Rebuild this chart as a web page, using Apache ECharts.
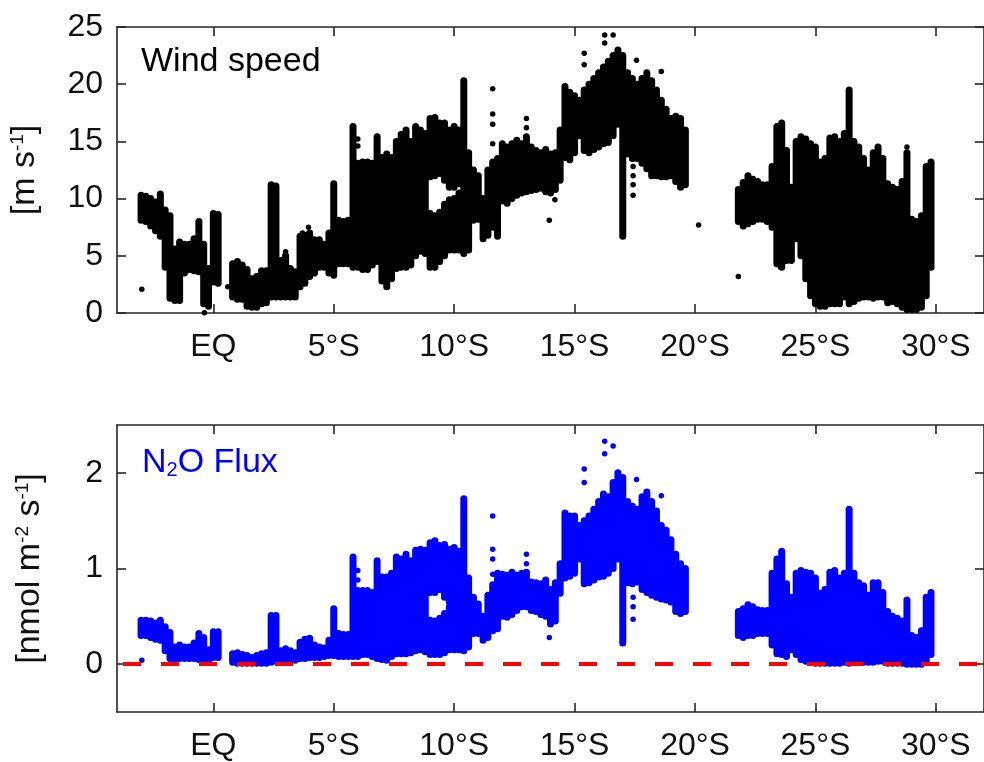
<!DOCTYPE html>
<html>
<head>
<meta charset="utf-8">
<script src="https://cdn.jsdelivr.net/npm/echarts@6/dist/echarts.min.js"></script>
<style>
html,body{margin:0;padding:0;background:#fff;}
#chart{width:984px;height:762px;}
</style>
</head>
<body>
<div id="chart"></div>
<script>
// ---- tick labels ----
const xTickVals = [0, 5, 10, 15, 20, 25, 30];
const xTickLabels = ['EQ', '5°S', '10°S', '15°S', '20°S', '25°S', '30°S'];
const windTicks = [0, 5, 10, 15, 20, 25];
const fluxTicks = [0, 1, 2];

// ---- wind speed: vertical spread of the point cloud [lat, low, high] (m s-1) ----
const windCols = [
 [-3.0,8.1,10.3],[-2.8,8.0,10.2],[-2.6,7.6,10.0],[-2.4,7.2,9.7],[-2.2,6.7,10.4],
 [-2.0,4.0,9.0],[-1.8,1.3,8.5],[-1.6,1.1,5.6],[-1.4,1.1,6.2],[-1.2,3.5,6.0],
 [-1.0,3.8,6.0],[-0.8,3.7,6.5],[-0.6,3.6,8.0],[-0.4,0.8,6.0],[-0.2,0.6,3.9],
 [0.0,2.7,8.7],[0.2,2.6,8.6],[0.8,1.4,4.3],[1.0,1.2,4.5],[1.2,1.2,4.2],
 [1.4,0.6,3.8],[1.6,0.5,3.0],[1.8,0.5,3.2],[2.0,0.8,3.7],[2.2,0.9,3.7],
 [2.4,1.4,11.2],[2.6,1.4,11.1],[2.8,1.4,4.6],[3.0,1.4,5.0],[3.2,1.4,3.9],
 [3.4,1.4,3.6],[3.6,2.3,6.7],[3.8,2.6,6.8],[4.0,3.2,7.0],[4.2,3.5,6.4],
 [4.4,4.0,6.4],[4.6,4.0,6.0],[4.8,3.5,7.0],[5.0,3.3,11.3],[5.2,4.3,8.1],
 [5.4,4.3,8.0],[5.6,4.3,8.1],[5.8,4.0,16.3],[6.0,4.0,13.1],[6.2,3.8,13.2],
 [6.4,3.8,13.2],[6.6,4.2,13.1],[6.8,4.5,15.4],[7.0,2.8,13.6],[7.2,2.3,13.9],
 [7.4,3.0,13.6],[7.6,3.9,15.0],[7.8,4.0,15.6],[8.0,4.0,16.0],[8.2,4.2,15.0],
 [8.4,5.0,16.3],[8.6,5.4,16.0],[8.8,5.2,15.7],
 [9.0,4.0,8.7],[9.0,11.9,17.0],[9.2,4.0,8.5],[9.2,12.0,17.1],[9.4,4.5,8.8],[9.4,12.2,16.6],
 [9.6,5.0,9.5],[9.6,11.6,16.6],[9.8,5.5,9.9],[9.8,11.0,16.0],[10.0,5.5,10.0],[10.0,11.0,16.3],
 [10.2,5.5,10.5],[10.2,11.3,16.0],
 [10.4,5.2,20.3],[10.6,5.5,14.0],[10.8,8.1,12.5],[11.0,8.2,12.0],[11.2,6.5,10.0],
 [11.4,6.8,12.5],[11.6,7.5,13.2],[11.8,6.7,13.5],[12.0,9.8,14.8],[12.2,9.6,14.5],
 [12.4,10.0,14.8],[12.6,10.3,15.1],[12.8,10.5,14.8],[13.0,10.6,15.4],[13.2,10.7,14.5],
 [13.4,10.8,14.2],[13.6,10.9,14.0],[13.8,10.6,14.3],[14.0,10.5,13.9],[14.2,10.8,14.0],
 [14.4,11.6,16.0],[14.6,13.6,19.8],[14.8,13.4,19.3],[15.0,14.0,19.0],[15.2,15.5,18.6],
 [15.4,14.2,19.5],[15.6,14.0,20.0],[15.8,14.3,20.5],[16.0,14.5,21.0],[16.2,14.8,21.5],
 [16.4,14.9,22.0],[16.6,15.5,22.5],[16.8,16.5,23.0],[17.0,6.7,22.5],[17.2,13.9,21.0],
 [17.4,13.5,20.5],[17.6,13.5,20.0],[17.8,13.1,20.5],[18.0,12.6,21.0],[18.2,12.0,20.3],
 [18.4,12.0,19.5],[18.6,11.9,18.6],[18.8,11.9,17.8],[19.0,12.0,17.0],[19.2,11.5,17.2],
 [19.4,11.0,17.0],[19.6,11.2,16.0],
 [21.8,8.0,10.8],[22.0,7.6,11.4],[22.2,7.8,12.0],[22.4,8.0,11.7],[22.6,8.2,11.5],
 [22.8,8.2,11.2],[23.0,8.0,11.2],[23.2,7.5,12.8],[23.4,4.3,16.3],[23.6,4.0,16.6],
 [23.8,4.6,14.2],[24.0,4.6,11.0],[24.2,6.5,15.0],[24.4,5.0,15.4],[24.6,3.0,15.2],
 [24.8,1.5,14.8],[25.0,0.8,14.5],[25.2,0.6,13.2],[25.4,0.6,13.5],[25.6,0.8,15.3],
 [25.8,0.8,15.4],[26.0,0.8,15.0],[26.2,1.4,15.7],[26.4,0.8,19.5],[26.6,1.0,15.0],
 [26.8,1.3,14.5],[27.0,1.4,13.5],[27.2,1.4,12.5],[27.4,1.3,14.0],[27.6,1.4,14.5],
 [27.8,1.4,13.5],[28.0,0.9,11.3],[28.2,1.0,11.0],[28.4,0.8,10.8],[28.6,0.5,11.5],
 [28.8,0.3,14.0],[29.0,0.3,8.2],[29.2,0.3,8.0],[29.4,0.5,8.5],[29.6,1.5,12.8],
 [29.8,4.0,13.2]
];
// isolated wind speed points [lat, value]
const windDots = [
 [-2.97,2.07],[-0.37,0.03],[0.6,2.3],[3.0,5.35],[3.7,7.0],[3.95,7.5],[4.55,5.2],
 [6.0,15.2],[6.0,14.6],[11.6,19.6],[11.6,17.4],[11.6,16.5],[11.6,14.8],[13.0,17.0],[13.0,16.2],
 [13.95,8.1],[14.18,9.9],[15.4,22.7],[15.4,21.7],[16.25,24.3],[16.25,23.6],[16.6,24.3],
 [17.43,12.8],[17.43,12.0],[17.43,11.2],[17.43,10.3],[17.57,22.1],[18.6,21.1],
 [20.15,7.7],[21.8,3.2],[23.55,4.0],[28.8,14.5]
];

// ---- N2O flux: vertical spread of the point cloud [lat, low, high] (nmol m-2 s-1) ----
const fluxCols = [
 [-3.0,0.30,0.46],[-2.8,0.30,0.46],[-2.6,0.28,0.45],[-2.4,0.26,0.43],[-2.2,0.25,0.46],
 [-2.0,0.14,0.39],[-1.8,0.06,0.33],[-1.6,0.05,0.18],[-1.4,0.06,0.20],[-1.2,0.06,0.18],
 [-1.0,0.06,0.18],[-0.8,0.06,0.22],[-0.6,0.05,0.32],[-0.4,0.03,0.28],[-0.2,0.03,0.15],
 [0.0,0.07,0.34],[0.2,0.07,0.34],[0.8,0.02,0.11],[1.0,0.01,0.12],[1.2,0.01,0.10],
 [1.4,0.01,0.09],[1.6,0.01,0.07],[1.8,0.01,0.09],[2.0,0.01,0.11],[2.2,0.01,0.12],
 [2.4,0.02,0.51],[2.6,0.03,0.51],[2.8,0.03,0.14],[3.0,0.03,0.16],[3.2,0.04,0.14],
 [3.4,0.04,0.12],[3.6,0.06,0.23],[3.8,0.06,0.26],[4.0,0.07,0.27],[4.2,0.07,0.20],
 [4.4,0.07,0.18],[4.6,0.08,0.17],[4.8,0.09,0.25],[5.0,0.09,0.58],[5.2,0.08,0.32],
 [5.4,0.08,0.31],[5.6,0.08,0.31],[5.8,0.08,1.12],[6.0,0.08,0.77],[6.2,0.10,0.77],
 [6.4,0.10,0.77],[6.6,0.08,0.75],[6.8,0.06,1.08],[7.0,0.05,0.91],[7.2,0.04,0.91],
 [7.4,0.08,0.95],[7.6,0.11,1.12],[7.8,0.11,1.10],[8.0,0.11,1.15],[8.2,0.12,1.08],
 [8.4,0.14,1.19],[8.6,0.15,1.20],[8.8,0.13,1.19],
 [9.0,0.10,0.46],[9.0,0.75,1.27],[9.2,0.10,0.45],[9.2,0.75,1.29],[9.4,0.10,0.48],[9.4,0.78,1.24],
 [9.6,0.12,0.53],[9.6,0.70,1.25],[9.8,0.15,0.60],[9.8,0.65,1.20],[10.0,0.15,0.60],[10.0,0.65,1.22],
 [10.2,0.15,0.62],[10.2,0.68,1.18],
 [10.4,0.14,1.73],[10.6,0.18,0.90],[10.8,0.32,0.70],[11.0,0.32,0.63],[11.2,0.25,0.50],
 [11.4,0.28,0.72],[11.6,0.35,0.83],[11.8,0.37,0.95],[12.0,0.50,0.94],[12.2,0.49,0.93],
 [12.4,0.52,0.96],[12.6,0.56,0.93],[12.8,0.60,0.95],[13.0,0.60,0.96],[13.2,0.56,0.86],
 [13.4,0.55,0.85],[13.6,0.52,0.84],[13.8,0.50,0.88],[14.0,0.42,0.78],[14.2,0.45,0.85],
 [14.4,0.74,1.05],[14.6,0.90,1.58],[14.8,0.92,1.55],[15.0,0.95,1.55],[15.2,1.10,1.45],
 [15.4,0.84,1.50],[15.6,0.85,1.55],[15.8,0.88,1.62],[16.0,0.91,1.70],[16.2,0.92,1.78],
 [16.4,0.95,1.75],[16.6,1.00,1.90],[16.8,1.10,2.00],[17.0,0.22,1.95],[17.2,0.85,1.70],
 [17.4,0.84,1.65],[17.6,0.86,1.62],[17.8,0.78,1.75],[18.0,0.75,1.80],[18.2,0.72,1.70],
 [18.4,0.70,1.60],[18.6,0.68,1.45],[18.8,0.67,1.40],[19.0,0.65,1.30],[19.2,0.55,1.15],
 [19.4,0.53,1.05],[19.6,0.55,1.00],
 [21.8,0.30,0.55],[22.0,0.28,0.58],[22.2,0.30,0.62],[22.4,0.30,0.60],[22.6,0.32,0.57],
 [22.8,0.32,0.56],[23.0,0.32,0.56],[23.2,0.20,0.95],[23.4,0.11,1.10],[23.6,0.10,1.18],
 [23.8,0.08,0.84],[24.0,0.15,0.70],[24.2,0.10,0.95],[24.4,0.05,0.98],[24.6,0.03,0.96],
 [24.8,0.02,0.95],[25.0,0.01,0.90],[25.2,0.01,0.74],[25.4,0.01,0.78],[25.6,0.01,0.96],
 [25.8,0.01,0.98],[26.0,0.01,0.90],[26.2,0.02,0.95],[26.4,0.01,1.62],[26.6,0.02,0.95],
 [26.8,0.02,0.85],[27.0,0.02,0.82],[27.2,0.02,0.72],[27.4,0.02,0.85],[27.6,0.03,0.85],
 [27.8,0.03,0.75],[28.0,0.01,0.55],[28.2,0.01,0.50],[28.4,0.01,0.48],[28.6,0.01,0.45],
 [28.8,0.00,0.67],[29.0,0.00,0.30],[29.2,0.00,0.28],[29.4,0.00,0.35],[29.6,0.02,0.70],
 [29.8,0.10,0.75]
];
// isolated flux points [lat, value]
const fluxDots = [
 [-2.97,0.04],[6.0,0.98],[6.0,0.88],[11.6,1.55],[11.6,1.20],[11.6,1.10],[11.6,0.94],
 [13.0,1.15],[13.0,1.05],[13.95,0.28],[15.4,2.04],[15.4,1.90],[16.25,2.33],[16.25,2.20],
 [16.6,2.28],[17.43,0.70],[17.43,0.60],[17.43,0.47],[17.57,1.93],[18.6,1.76]
];

const FONT = 'Liberation Sans, Arial, Helvetica, sans-serif';
const AX = '#262626';
const FS = 32;      // tick labels
const NFS = 34;     // axis names and panel labels

function colRenderer(color) {
  return function (params, api) {
    const x = api.value(0), lo = api.value(1), hi = api.value(2);
    const p1 = api.coord([x, lo]);
    const p2 = api.coord([x, hi]);
    return {
      type: 'line',
      shape: { x1: p1[0], y1: p1[1], x2: p2[0], y2: p2[1] },
      style: { stroke: color, lineWidth: 7, lineCap: 'round', opacity: 1 }
    };
  };
}

function xAx(grid, pos, labels) {
  return {
    gridIndex: grid, type: 'value', min: -4, max: 32, position: pos,
    axisLine: { show: true, onZero: false, lineStyle: { color: AX, width: 1.6 } },
    axisTick: { show: true, inside: true, length: 9, customValues: xTickVals, lineStyle: { color: AX, width: 1.6 } },
    axisLabel: {
      show: labels, customValues: xTickVals, margin: 18,
      fontSize: FS, fontFamily: FONT, color: '#111',
      formatter: v => xTickLabels[xTickVals.indexOf(v)]
    },
    splitLine: { show: false }
  };
}

function yAx(grid, pos, min, max, ticks, labels, name, nameGap) {
  return {
    gridIndex: grid, type: 'value', min: min, max: max, position: pos,
    name: name || '', nameLocation: 'middle', nameRotate: 90, nameGap: nameGap || 0,
    nameTextStyle: {
      fontSize: NFS, fontFamily: FONT, color: '#111',
      rich: { sup: { fontSize: 19, fontFamily: FONT, color: '#111', verticalAlign: 'top', lineHeight: 20 } }
    },
    axisLine: { show: true, onZero: false, lineStyle: { color: AX, width: 1.6 } },
    axisTick: { show: true, inside: true, length: 9, customValues: ticks, lineStyle: { color: AX, width: 1.6 } },
    axisLabel: { show: labels, customValues: ticks, margin: 14, fontSize: FS, fontFamily: FONT, color: '#111' },
    splitLine: { show: false }
  };
}

const chart = echarts.init(document.getElementById('chart'), null, { renderer: 'canvas' });
chart.setOption({
  animation: false,
  backgroundColor: '#fff',
  grid: [
    { left: 117, top: 27, width: 868, height: 286 },
    { left: 117, top: 425, width: 868, height: 287 }
  ],
  xAxis: [
    xAx(0, 'bottom', true), xAx(0, 'top', false),
    xAx(1, 'bottom', true), xAx(1, 'top', false)
  ],
  yAxis: [
    yAx(0, 'left', 0, 25, windTicks, true, '[m s{sup|-1}]', 75),
    yAx(0, 'right', 0, 25, windTicks, false),
    yAx(1, 'left', -0.5, 2.5, fluxTicks, true, '[nmol m{sup|-2} s{sup|-1}]', 70),
    yAx(1, 'right', -0.5, 2.5, fluxTicks, false)
  ],
  graphic: [
    { type: 'text', left: 141, top: 45, style: { text: 'Wind speed', font: NFS + 'px ' + FONT, fill: '#000' } },
    { type: 'text', left: 142, top: 446, style: {
        text: 'N{sub|2}O Flux', fill: '#0000ff', font: NFS + 'px ' + FONT,
        rich: { sub: { fontSize: 20, fontFamily: FONT, fill: '#0000ff', verticalAlign: 'bottom', lineHeight: 10 } }
    } }
  ],
  series: [
    { type: 'custom', xAxisIndex: 0, yAxisIndex: 0, data: windCols, encode: { x: 0, y: [1, 2] },
      renderItem: colRenderer('#000'), clip: true, silent: true },
    { type: 'scatter', xAxisIndex: 0, yAxisIndex: 0, data: windDots, symbolSize: 5.5,
      itemStyle: { color: '#000', opacity: 1 }, silent: true },
    { type: 'custom', xAxisIndex: 2, yAxisIndex: 2, data: fluxCols, encode: { x: 0, y: [1, 2] },
      renderItem: colRenderer('#0000ff'), clip: true, silent: true },
    { type: 'scatter', xAxisIndex: 2, yAxisIndex: 2, data: fluxDots, symbolSize: 5.5,
      itemStyle: { color: '#0000ff', opacity: 1 }, silent: true, z: 2,
      markLine: {
        silent: true, symbol: 'none', z: 10, label: { show: false },
        lineStyle: { color: '#ff0000', width: 4, type: [18, 20], dashOffset: 32, opacity: 1 },
        data: [{ yAxis: 0 }]
      }
    }
  ]
});
</script>
</body>
</html>
